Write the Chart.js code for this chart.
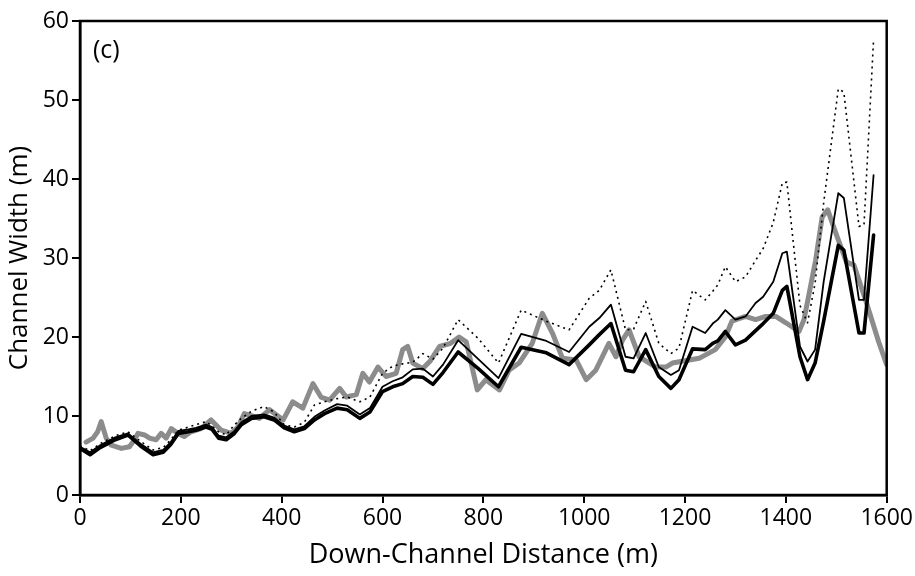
<!DOCTYPE html>
<html>
<head>
<meta charset="utf-8">
<script src="https://cdn.jsdelivr.net/npm/chart.js@4.4.1/dist/chart.umd.min.js"></script>
<style>
  html, body { margin: 0; padding: 0; background: #fff; }
  #wrap { width: 915px; height: 576px; }
</style>
</head>
<body>
<div id="wrap"><canvas id="myChart" width="915" height="576"></canvas></div>
<script>
// observed channel width (gray)
const obsDist = [12, 26, 35, 42, 52, 62, 82, 98, 105, 115, 128, 138, 151, 161, 171, 181, 194, 207, 220, 240,
  260, 280, 300, 313, 326, 337, 356, 376, 403, 422, 442, 462, 478, 495, 515, 528, 548, 561, 574, 591,
  607, 627, 640, 650, 660, 680, 695, 713, 735, 752, 766, 788, 805, 832, 851, 871, 897, 917, 937, 957,
  984, 1004, 1023, 1049, 1063, 1076, 1089, 1109, 1142, 1162, 1175, 1200, 1228, 1260, 1280, 1293, 1320, 1340, 1360, 1380,
  1400, 1426, 1436, 1459, 1472, 1483, 1500, 1520, 1535, 1558, 1584, 1600];
const obsWidth = [6.7, 7.2, 8.0, 9.3, 7.2, 6.3, 5.9, 6.1, 6.7, 7.8, 7.6, 7.2, 7.0, 7.8, 7.2, 8.4, 7.8, 7.4, 8.0, 8.4,
  9.5, 8.2, 7.8, 8.6, 10.3, 10.1, 9.7, 10.8, 9.5, 11.8, 11.0, 14.1, 12.4, 12.0, 13.5, 12.4, 12.7, 15.4, 14.3, 16.2,
  15.0, 15.4, 18.4, 18.8, 16.7, 16.0, 17.0, 18.8, 19.2, 20.0, 19.4, 13.3, 14.6, 13.3, 15.8, 16.7, 19.2, 23.0, 20.5, 17.3,
  17.1, 14.6, 15.8, 19.2, 17.5, 19.6, 20.9, 17.5, 16.2, 16.2, 16.7, 17.0, 17.3, 18.4, 20.0, 22.0, 22.6, 22.2, 22.6, 22.6,
  21.8, 20.7, 22.2, 29.7, 35.2, 36.1, 33.0, 29.5, 29.1, 24.7, 19.4, 16.5];

// modelled widths share the same stations
const modelDist = [0, 20, 40, 70, 95, 120, 145, 165, 180, 195, 215, 230, 250, 262, 275, 290, 305, 320, 340, 365,
  385, 405, 425, 445, 465, 485, 510, 530, 555, 575, 600, 620, 640, 660, 680, 700, 720, 750, 790, 830,
  875, 925, 970, 1010, 1030, 1053, 1082, 1098, 1122, 1148, 1172, 1188, 1215, 1240, 1255, 1265, 1280, 1300, 1320, 1340,
  1355, 1375, 1393, 1402, 1428, 1443, 1458, 1475, 1504, 1515, 1545, 1555, 1574];
const thickWidth = [5.9, 5.1, 6.0, 7.0, 7.6, 6.2, 5.1, 5.4, 6.4, 7.8, 8.0, 8.2, 8.6, 8.3, 7.2, 7.0, 7.7, 8.9, 9.7, 9.9,
  9.5, 8.5, 8.0, 8.4, 9.5, 10.3, 11.0, 10.8, 9.7, 10.5, 13.1, 13.7, 14.1, 15.0, 14.9, 14.0, 15.5, 18.1, 16.0, 13.7,
  18.7, 18.0, 16.5, 19.0, 20.3, 21.7, 15.8, 15.6, 18.4, 15.0, 13.5, 14.6, 18.5, 18.4, 19.2, 19.5, 20.7, 19.0, 19.6, 20.8,
  21.7, 23.0, 25.9, 26.4, 17.5, 14.6, 16.7, 22.0, 31.6, 31.0, 20.5, 20.5, 32.9];
const thinWidth = [6.1, 5.4, 6.3, 7.3, 7.8, 6.5, 5.4, 5.7, 6.7, 8.1, 8.3, 8.5, 8.9, 8.6, 7.5, 7.3, 8.0, 9.2, 10.0, 10.2,
  9.8, 8.8, 8.3, 8.7, 9.9, 10.7, 11.5, 11.3, 10.2, 11.0, 13.7, 14.4, 14.9, 15.9, 16.0, 15.0, 16.5, 19.6, 17.2, 14.8,
  20.4, 19.5, 18.1, 21.3, 22.4, 24.1, 17.5, 17.3, 20.5, 16.2, 15.2, 15.8, 21.3, 20.5, 21.7, 22.2, 23.4, 22.2, 22.6, 24.3,
  25.1, 27.0, 30.6, 30.8, 18.8, 16.9, 18.4, 27.0, 38.2, 37.6, 24.7, 24.7, 40.5];
const dottedWidth = [6.2, 5.6, 6.5, 7.5, 8.0, 6.8, 5.7, 6.0, 7.0, 8.2, 8.6, 8.9, 9.3, 8.7, 8.0, 7.6, 8.8, 9.7, 10.6, 11.2,
  10.5, 8.9, 8.6, 9.2, 11.4, 11.8, 12.2, 12.4, 11.8, 12.4, 15.4, 16.3, 16.6, 16.8, 17.9, 17.2, 18.6, 22.2, 19.8, 16.7,
  23.4, 22.0, 20.9, 24.9, 25.9, 28.5, 20.9, 21.0, 24.5, 19.2, 17.9, 18.6, 25.9, 24.7, 25.8, 26.6, 28.9, 27.0, 27.6, 29.7,
  31.2, 34.5, 39.5, 39.6, 24.0, 21.8, 26.8, 37.0, 51.4, 51.0, 34.0, 34.2, 57.7];

const xTicks = [0, 200, 400, 600, 800, 1000, 1200, 1400, 1600];
const yTicks = [0, 10, 20, 30, 40, 50, 60];

const toPoints = (xs, ys) => xs.map((x, i) => ({ x: x, y: ys[i] }));

const FONT = '"Open Sans", "Noto Sans", sans-serif';

// frame + panel letter
const framePlugin = {
  id: 'frame',
  afterDraw(chart) {
    const { ctx, chartArea: a } = chart;
    ctx.save();
    ctx.strokeStyle = '#000';
    ctx.lineWidth = 2.5;
    ctx.strokeRect(a.left, a.top, a.right - a.left, a.bottom - a.top);
    ctx.fillStyle = '#000';
    ctx.font = '25px ' + FONT;
    ctx.textBaseline = 'middle';
    ctx.fillText('(c)', a.left + 13, a.top + 30);
    ctx.restore();
  }
};

const line = (data, color, width, dash) => ({
  data: data,
  borderColor: color,
  borderWidth: width,
  borderDash: dash || [],
  pointRadius: 0,
  fill: false,
  tension: 0,
  borderJoinStyle: 'round',
  borderCapStyle: dash ? 'butt' : 'round'
});

new Chart(document.getElementById('myChart'), {
  type: 'line',
  data: {
    datasets: [
      line(toPoints(modelDist, dottedWidth), '#000', 1.6, [2, 4]),
      line(toPoints(modelDist, thinWidth), '#000', 1.8),
      line(toPoints(modelDist, thickWidth), '#000', 3.6),
      line(toPoints(obsDist, obsWidth), '#8c8c8c', 5)
    ]
  },
  options: {
    responsive: false,
    animation: false,
    layout: { padding: { top: 21, right: 27, left: 0, bottom: 0 } },
    plugins: { legend: { display: false }, tooltip: { enabled: false } },
    scales: {
      x: {
        type: 'linear',
        min: 0, max: 1600,
        afterBuildTicks: s => { s.ticks = xTicks.map(v => ({ value: v })); },
        afterFit: s => { s.height = 81; },
        grid: { drawOnChartArea: false, color: '#000', lineWidth: 2, tickLength: 8 },
        border: { display: true, color: '#000', width: 2.5 },
        ticks: { color: '#000', font: { family: FONT, size: 23 }, padding: 2, maxRotation: 0,
                 callback: v => String(v) },
        title: { display: true, text: 'Down-Channel Distance (m)', color: '#000',
                 font: { family: FONT, size: 27 }, padding: { top: 0, bottom: 4 } }
      },
      y: {
        type: 'linear',
        min: 0, max: 60,
        afterBuildTicks: s => { s.ticks = yTicks.map(v => ({ value: v })); },
        afterFit: s => { s.width = 80; },
        grid: { drawOnChartArea: false, color: '#000', lineWidth: 2, tickLength: 8 },
        border: { display: true, color: '#000', width: 2.5 },
        ticks: { color: '#000', font: { family: FONT, size: 23 }, padding: 3,
                 callback: v => String(v) },
        title: { display: true, text: 'Channel Width (m)', color: '#000',
                 font: { family: FONT, size: 26 }, padding: { top: 4, bottom: 0 } }
      }
    }
  },
  plugins: [framePlugin]
});
</script>
</body>
</html>
